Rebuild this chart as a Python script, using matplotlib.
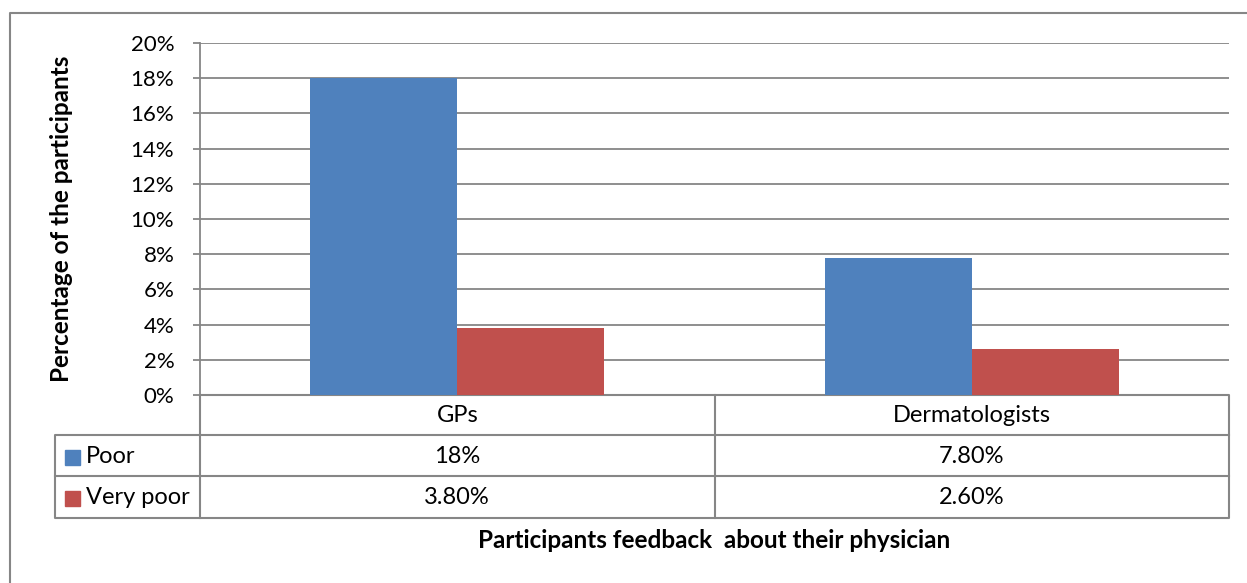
import matplotlib.pyplot as plt
import numpy as np

categories = ["GPs", "Dermatologists"]
series_names = ["Poor", "Very poor"]
poor = [18.0, 7.8]
very_poor = [3.8, 2.6]
table_text = [["18%", "7.80%"], ["3.80%", "2.60%"]]
y_ticks = [0, 2, 4, 6, 8, 10, 12, 14, 16, 18, 20]
colors = ["#4f81bd", "#c0504d"]
grid_col = "#868686"

plt.rcParams["font.family"] = ["Lato", "DejaVu Sans"]
W, H = 1247, 583
fig = plt.figure(figsize=(W / 100, H / 100), dpi=100)

# pixel-space overlay for the frame + data table
bg = fig.add_axes([0, 0, 1, 1])
bg.set_xlim(0, W)
bg.set_ylim(H, 0)
bg.axis("off")

# plot area in pixels
L, R, T, B = 200, 1229, 43, 395
ax = fig.add_axes([L / W, 1 - B / H, (R - L) / W, (B - T) / H])
ax.set_zorder(2)
ax.patch.set_alpha(0)

x = np.arange(len(categories))
bw = 0.286
ax.bar(x - bw / 2, poor, bw, color=colors[0], zorder=3)
ax.bar(x + bw / 2, very_poor, bw, color=colors[1], zorder=3)
ax.set_xlim(-0.5, 1.5)
ax.set_ylim(0, 20)
ax.set_yticks(y_ticks)
ax.set_yticklabels([f"{t}%" for t in y_ticks], fontsize=16)
ax.set_xticks([])
ax.yaxis.grid(True, color=grid_col, lw=1.3)
ax.set_axisbelow(True)
for s in ["top", "right", "bottom"]:
    ax.spines[s].set_visible(False)
ax.spines["left"].set_color(grid_col)
ax.spines["left"].set_linewidth(1.3)
ax.tick_params(axis="y", length=5, width=1.3, color=grid_col, pad=13.5)

bg.text(62, 219, "Percentage of the participants", rotation=90, ha="center", va="center",
        fontsize=17.5, fontweight="bold")

# outer chart border
lc = "#868686"
bg.plot([10, 10, W], [H, 13, 13], color=lc, lw=1.5)

# data table
mid = (L + R) / 2
row_y = [B, 435, 476, 518]
bg.plot([L, R, R, 55, 55, L], [B, B, row_y[3], row_y[3], row_y[1], row_y[1]], color=lc, lw=1.5)
bg.plot([55, R], [row_y[2], row_y[2]], color=lc, lw=1.5)
bg.plot([L, R], [row_y[1], row_y[1]], color=lc, lw=1.5)
bg.plot([L, L], [B, row_y[3]], color=lc, lw=1.5)
bg.plot([mid, mid], [B, row_y[3]], color=lc, lw=1.5)

col_cx = [(L + mid) / 2, (mid + R) / 2]
for i, c in enumerate(categories):
    bg.text(col_cx[i], (row_y[0] + row_y[1]) / 2 + 1, c, ha="center", va="center", fontsize=17)
for r, name in enumerate(series_names):
    yc = (row_y[r + 1] + row_y[r + 2]) / 2 + 1
    bg.add_patch(plt.Rectangle((65, yc - 7), 15, 15, color=colors[r]))
    bg.text(86, yc, name, ha="left", va="center", fontsize=17)
    for i in range(len(categories)):
        bg.text(col_cx[i], yc, table_text[r][i], ha="center", va="center", fontsize=17)

bg.text(mid, 541, "Participants feedback  about their physician", ha="center", va="center",
        fontsize=17.5, fontweight="bold")

fig.savefig("out.png", dpi=100)
